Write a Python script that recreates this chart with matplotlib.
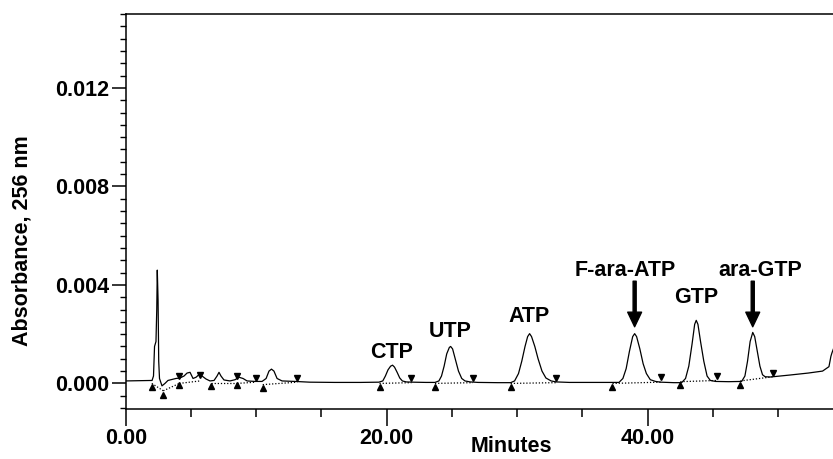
import matplotlib
matplotlib.use("Agg")
import matplotlib.pyplot as plt
from matplotlib.ticker import MultipleLocator

# ---- data ----
trace_time = [0.0, 1.0, 1.86, 2.02, 2.13, 2.21, 2.32, 2.38, 2.42, 2.48, 2.53, 2.59,
              2.78, 3.01, 3.24, 3.55, 3.85, 4.16, 4.47, 4.70, 4.93, 5.16, 5.39, 5.62,
              5.85, 6.15, 6.46, 6.77, 7.0, 7.15, 7.3, 7.53, 7.99, 8.38, 8.68, 8.99,
              9.3, 9.91, 10.45, 10.76, 10.98, 11.17, 11.36, 11.6, 11.98, 12.97, 14.1,
              16.0, 18.0, 19.4, 19.7, 19.9, 20.1, 20.3, 20.45, 20.6, 20.8, 21.0, 21.2,
              21.5, 22.0, 23.0, 23.7, 24.0, 24.2, 24.4, 24.6, 24.8, 24.9, 25.05, 25.25,
              25.5, 25.75, 26.0, 26.4, 27.0, 28.5, 29.5, 29.8, 30.1, 30.35, 30.6, 30.8,
              30.95, 31.1, 31.35, 31.6, 31.9, 32.2, 32.6, 33.0, 34.0, 36.0, 37.8, 38.1,
              38.35, 38.6, 38.85, 39.0, 39.15, 39.4, 39.65, 39.9, 40.2, 40.6, 41.0, 42.0,
              42.6, 42.9, 43.15, 43.4, 43.6, 43.72, 43.85, 44.05, 44.3, 44.55, 44.8, 45.2,
              46.2, 47.2, 47.45, 47.65, 47.85, 48.05, 48.2, 48.4, 48.6, 48.8, 49.0, 49.4,
              50.9, 52.3, 53.4, 53.89, 54.04, 54.12, 54.3]
trace_abs = [0.00010, 0.00011, 0.00012, 0.00012, 0.00030, 0.00150, 0.00170, 0.00300,
             0.00460, 0.00340, 0.00090, 0.00020, -0.00010, 0.00000, 0.00012, 0.00016,
             0.00020, 0.00022, 0.00030, 0.00042, 0.00045, 0.00020, 0.00025, 0.00036,
             0.00030, 0.00018, 0.00010, 0.00012, 0.00030, 0.00045, 0.00030, 0.00014,
             0.00010, 0.00015, 0.00025, 0.00020, 0.00010, 0.00008, 0.00008, 0.00020,
             0.00050, 0.00058, 0.00050, 0.00020, 0.00010, 0.00008, 0.00005, 0.00004,
             0.00004, 0.00005, 0.00010, 0.00030, 0.00055, 0.00070, 0.00074, 0.00066,
             0.00045, 0.00022, 0.00010, 0.00006, 0.00005, 0.00004, 0.00004, 0.00010,
             0.00030, 0.00070, 0.00120, 0.00146, 0.00150, 0.00140, 0.00100, 0.00050,
             0.00020, 0.00010, 0.00006, 0.00004, 0.00003, 0.00003, 0.00010, 0.00040,
             0.00090, 0.00150, 0.00190, 0.00202, 0.00190, 0.00150, 0.00100, 0.00050,
             0.00022, 0.00010, 0.00006, 0.00004, 0.00004, 0.00004, 0.00020, 0.00060,
             0.00130, 0.00190, 0.00202, 0.00190, 0.00140, 0.00080, 0.00040, 0.00015,
             0.00008, 0.00005, 0.00003, 0.00003, 0.00020, 0.00070, 0.00160, 0.00240,
             0.00256, 0.00240, 0.00170, 0.00090, 0.00030, 0.00012, 0.00008, 0.00007,
             0.00008, 0.00030, 0.00090, 0.00170, 0.00207, 0.00190, 0.00130, 0.00070,
             0.00035, 0.00027, 0.00026, 0.00034, 0.00042, 0.00050, 0.00068, 0.00110,
             0.00124, 0.00150]

# integration baseline (dotted) segments: (start time, start abs, end time, end abs)
base_t0 = [2.0, 2.88, 4.11, 6.51, 8.55, 10.5, 19.45, 23.7, 29.5, 37.3, 42.5, 47.1]
base_a0 = [0.00000, -0.00030, 0.00000, 0.00000, 0.00000, -0.00005, 0.00000, 0.00000,
           0.00000, 0.00000, 0.00007, 0.00010]
base_t1 = [2.88, 4.11, 5.69, 8.55, 9.98, 13.15, 21.9, 26.6, 33.0, 41.0, 45.3, 49.6]
base_a1 = [-0.00030, 0.00000, 0.00010, 0.00000, 0.00005, 0.00005, 0.00003, 0.00003,
           0.00003, 0.00005, 0.00012, 0.00027]

# peak start (up triangles) and end (down triangles) markers
start_t = [1.99, 2.88, 4.11, 6.51, 8.55, 10.5, 19.45, 23.7, 29.5, 37.3, 42.5, 47.1]
start_a = [-0.00014, -0.00048, -0.00007, -0.00010, -0.00008, -0.00020, -0.00015,
           -0.00015, -0.00015, -0.00015, -0.00007, -0.00007]
end_t = [4.11, 5.69, 8.55, 9.98, 13.15, 21.9, 26.6, 33.0, 41.0, 45.3, 49.6]
end_a = [0.00030, 0.00034, 0.00030, 0.00020, 0.00020, 0.00020, 0.00020, 0.00020,
         0.00026, 0.00030, 0.00042]

peak_names = ["CTP", "UTP", "ATP", "F-ara-ATP", "GTP", "ara-GTP"]
label_t = [20.4, 24.85, 30.9, 38.3, 43.7, 48.6]
label_a = [0.00126, 0.00212, 0.00270, 0.00460, 0.00350, 0.00460]
arrow_names = ["F-ara-ATP", "ara-GTP"]
arrow_t = [39.0, 48.05]
arrow_from = [0.00415, 0.00415]
arrow_to = [0.00230, 0.00230]

x_major = [0, 20, 40]
x_labels = ["0.00", "20.00", "40.00"]
y_major = [0.000, 0.004, 0.008, 0.012]
y_labels = ["0.000", "0.004", "0.008", "0.012"]

# ---- figure ----
FONT = "Liberation Sans"
FS = 15.5
fig = plt.figure(figsize=(8.33, 4.59), dpi=100)
ax = fig.add_axes([0.1509, 0.1089, 0.8491, 0.8606])

ax.plot(trace_time, trace_abs, color="black", lw=0.9)
for t0, a0, t1, a1 in zip(base_t0, base_a0, base_t1, base_a1):
    ax.plot([t0, t1], [a0, a1], color="black", lw=0.9, linestyle=(0, (1, 1.5)))
ax.plot(start_t, start_a, linestyle="none", marker="^", color="black", markersize=4.5)
ax.plot(end_t, end_a, linestyle="none", marker="v", color="black", markersize=4.5)

for name, t, a in zip(peak_names, label_t, label_a):
    ax.text(t, a, name, ha="center", va="center", fontsize=FS, fontweight="bold",
            family=FONT)
for name, t, a0, a1 in zip(arrow_names, arrow_t, arrow_from, arrow_to):
    ax.annotate("", xy=(t, a1), xytext=(t, a0),
                arrowprops=dict(facecolor="black", edgecolor="black", width=2.2,
                                headwidth=10, headlength=10.5, shrink=0))

ax.set_xlim(0, 54.2)
ax.set_ylim(-0.00104, 0.0150)
ax.spines["right"].set_visible(False)
for s in ["left", "bottom", "top"]:
    ax.spines[s].set_linewidth(1.1)

ax.set_xticks(x_major)
ax.set_xticklabels(x_labels)
ax.xaxis.set_minor_locator(MultipleLocator(5))
ax.set_yticks(y_major)
ax.set_yticklabels(y_labels)
ax.yaxis.set_minor_locator(MultipleLocator(0.0005))
ax.tick_params(axis="x", which="major", direction="out", length=12, width=1.1, pad=2)
ax.tick_params(axis="x", which="minor", direction="out", length=6, width=1.1)
ax.tick_params(axis="y", which="major", direction="out", length=10, width=1.1, pad=2)
ax.tick_params(axis="y", which="minor", direction="out", length=4, width=1.0)
for lab in ax.get_xticklabels() + ax.get_yticklabels():
    lab.set_fontsize(FS)
    lab.set_fontweight("bold")
    lab.set_family(FONT)

fig.text(511.5 / 833, 2 / 459, "Minutes", ha="center", va="bottom",
         fontsize=FS, fontweight="bold", family=FONT)
fig.text(22 / 833, 1 - 241 / 459, "Absorbance, 256 nm", ha="center", va="center",
         rotation=90, fontsize=FS, fontweight="bold", family=FONT)

fig.savefig("out.png", dpi=100)
